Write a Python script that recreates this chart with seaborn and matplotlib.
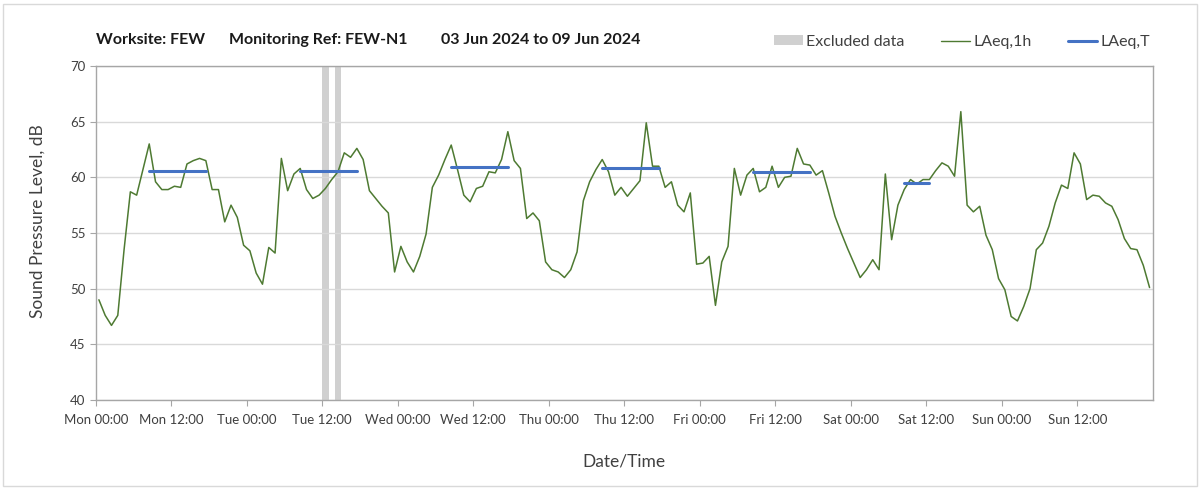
import numpy as np
import pandas as pd
import matplotlib
matplotlib.use('Agg')
import matplotlib.pyplot as plt
import seaborn as sns
from matplotlib.patches import Patch, Rectangle
from matplotlib.lines import Line2D

# hourly LAeq,1h values, Mon 00:00 -> Sun 23:00
laeq_1h = [
    49.0, 47.6, 46.7, 47.6, 53.5, 58.7, 58.4, 60.7, 63.0, 59.6, 58.9, 58.9,
    59.2, 59.1, 61.2, 61.5, 61.7, 61.5, 58.9, 58.9, 56.0, 57.5, 56.4, 53.9,
    53.4, 51.4, 50.4, 53.7, 53.2, 61.7, 58.8, 60.3, 60.8, 58.9, 58.1, 58.4,
    59.0, 59.8, 60.5, 62.2, 61.8, 62.6, 61.6, 58.8, 58.1, 57.4, 56.8, 51.5,
    53.8, 52.4, 51.5, 52.9, 54.9, 59.1, 60.2, 61.6, 62.9, 60.7, 58.4, 57.8,
    59.0, 59.2, 60.5, 60.4, 61.6, 64.1, 61.5, 60.8, 56.3, 56.8, 56.1, 52.4,
    51.7, 51.5, 51.0, 51.7, 53.3, 57.9, 59.6, 60.7, 61.6, 60.5, 58.4, 59.1,
    58.3, 59.0, 59.7, 64.9, 61.0, 61.0, 59.1, 59.6, 57.5, 56.9, 58.6, 52.2,
    52.3, 52.9, 48.5, 52.4, 53.8, 60.8, 58.4, 60.2, 60.8, 58.7, 59.1, 61.0,
    59.1, 60.0, 60.1, 62.6, 61.2, 61.1, 60.2, 60.6, 58.6, 56.5, 55.0, 53.6,
    52.3, 51.0, 51.7, 52.6, 51.7, 60.3, 54.4, 57.5, 58.9, 59.8, 59.4, 59.8,
    59.8, 60.6, 61.3, 61.0, 60.1, 65.9, 57.5, 56.9, 57.4, 54.8, 53.5, 50.9,
    49.9, 47.5, 47.1, 48.4, 50.0, 53.5, 54.1, 55.6, 57.7, 59.3, 59.0, 62.2,
    61.2, 58.0, 58.4, 58.3, 57.7, 57.4, 56.2, 54.5, 53.6, 53.5, 52.1, 50.1,
]

# LAeq,T periods (first hour, last hour, level)
t_start = [8, 32, 56, 80, 104, 128]
t_end = [17, 41, 65, 89, 113, 132]
t_level = [60.6, 60.6, 60.9, 60.8, 60.5, 59.5]

excluded_hours = [36, 38]

tick_labels = ['Mon 00:00', 'Mon 12:00', 'Tue 00:00', 'Tue 12:00',
               'Wed 00:00', 'Wed 12:00', 'Thu 00:00', 'Thu 12:00',
               'Fri 00:00', 'Fri 12:00', 'Sat 00:00', 'Sat 12:00',
               'Sun 00:00', 'Sun 12:00']

green = '#4e7a32'
blue = '#4472c4'
band = '#d0d0d0'
txt = '#404040'

sns.set_theme(style='white')
plt.rcParams['font.family'] = ['Lato', 'DejaVu Sans']

df = pd.DataFrame({'hour': np.arange(len(laeq_1h)) + 0.5, 'level': laeq_1h})

rows = []
for i, (s, e, lv) in enumerate(zip(t_start, t_end, t_level)):
    for h in range(s, e + 1):
        rows.append({'period': i, 'hour': h + 0.5, 'level': lv})
df_t = pd.DataFrame(rows)

fig = plt.figure(figsize=(12.03, 4.9), dpi=100)
ax = fig.add_axes([0.0796, 0.1837, 0.8786, 0.6816])

for h in excluded_hours:
    ax.axvspan(h, h + 1, color=band, lw=0, zorder=0.5)

sns.lineplot(data=df, x='hour', y='level', color=green, lw=1.1, ax=ax, zorder=3)
sns.lineplot(data=df_t, x='hour', y='level', units='period', estimator=None,
             color=blue, lw=2.2, ax=ax, zorder=4)

ax.set_xlim(0, 168)
ax.set_ylim(40, 70)
ax.set_xticks(range(0, 12 * len(tick_labels), 12))
ax.set_xticklabels(tick_labels)
ax.set_xticks(range(24, 168, 24), minor=True)
ax.set_yticks(range(40, 71, 5))

ax.grid(which='major', axis='y', color='#d9d9d9', lw=1)
ax.grid(which='minor', axis='x', color='#d9d9d9', lw=1)
ax.set_axisbelow(True)

ax.tick_params(axis='both', which='major', labelsize=9.5, labelcolor=txt,
               length=4, width=0.8, color='#a6a6a6', direction='out',
               bottom=True, left=True)
ax.tick_params(axis='x', which='major', pad=6)
ax.tick_params(which='minor', length=0)
for sp in ax.spines.values():
    sp.set_color('#a6a6a6')
    sp.set_linewidth(1)

ax.set_xlabel('Date/Time', fontsize=12.5, color=txt, labelpad=20)
ax.set_ylabel('Sound Pressure Level, dB', fontsize=12.5, color=txt)
ax.yaxis.set_label_coords(-0.047, 0.536)

# header
fig.text(96 / 1203, 1 - 40 / 490, 'Worksite: FEW', fontsize=11.5, fontweight='bold',
         color='#1a1a1a', va='center')
fig.text(229 / 1203, 1 - 40 / 490, 'Monitoring Ref: FEW-N1', fontsize=11.5,
         fontweight='bold', color='#1a1a1a', va='center')
fig.text(441 / 1203, 1 - 40 / 490, '03 Jun 2024 to 09 Jun 2024', fontsize=11.5,
         fontweight='bold', color='#1a1a1a', va='center')

handles = [Patch(facecolor=band, edgecolor='none'),
           Line2D([0], [0], color=green, lw=1.0),
           Line2D([0], [0], color=blue, lw=2.2)]
fig.legend(handles, ['Excluded data', 'LAeq,1h', 'LAeq,T'], ncol=3, frameon=False,
           loc='center right', bbox_to_anchor=(1164 / 1203, 1 - 42 / 490),
           fontsize=11.5, handlelength=1.8, handleheight=0.6, handletextpad=0.2,
           columnspacing=2.3, labelcolor=txt)

fig.add_artist(Rectangle((3 / 1203, 4 / 490), 1194 / 1203, 482 / 490,
                         transform=fig.transFigure, fill=False,
                         edgecolor='#d9d9d9', lw=1))

fig.savefig('out.png', dpi=100)
